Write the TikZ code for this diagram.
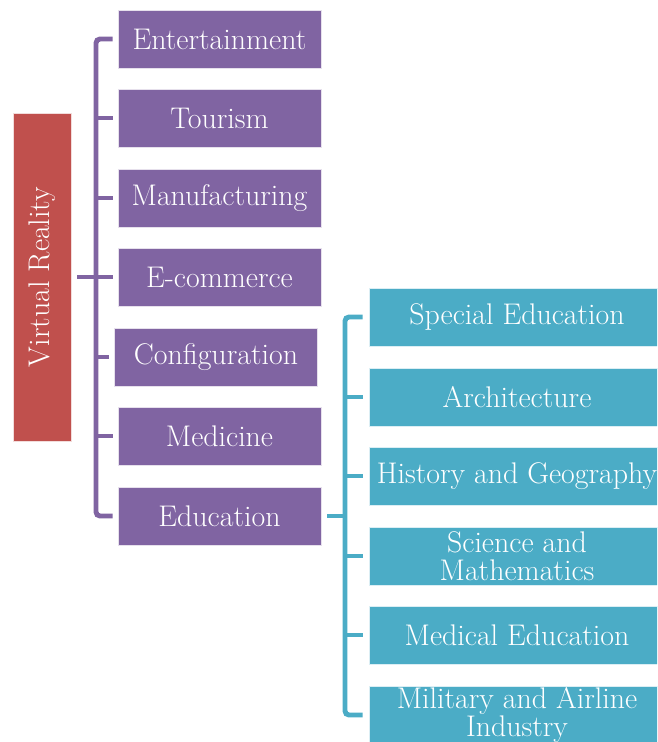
\documentclass[tikz,border=0pt]{standalone}
\usepackage{fontspec}
\definecolor{vrred}{HTML}{C0504D}
\definecolor{apppurple}{HTML}{8064A2}
\definecolor{eduteal}{HTML}{4BACC6}
\tikzset{
  rootbox/.style={fill=vrred, draw=white!80!vrred, line width=0.4pt, text=white,
    minimum width=6.56cm, minimum height=1.16cm, inner sep=0pt,
    font=\fontsize{17}{16}\selectfont},
  appbox/.style={fill=apppurple, draw=white!80!apppurple, line width=0.4pt, text=white,
    minimum width=4.06cm, minimum height=1.16cm, inner sep=0pt,
    font=\fontsize{17}{16}\selectfont},
  edubox/.style={appbox, fill=eduteal, draw=white!80!eduteal,
    minimum width=5.92cm, align=center},
  pline/.style={apppurple, line width=2.8pt, rounded corners=0.08cm},
  tline/.style={eduteal, line width=2.8pt, rounded corners=0.08cm}
}
\begin{document}
\begin{tikzpicture}[x=0.02cm,y=-0.02cm]
  \clip (0,0) rectangle (657,742);

  % root
  \node[rootbox, rotate=90] (vr) at (42,277) {Virtual Reality};

  % application areas
  \node[appbox] (ent) at (219.5,39)  {Entertainment};
  \node[appbox] (tou) at (219.5,118) {Tourism};
  \node[appbox] (man) at (219.5,198) {Manufacturing};
  \node[appbox] (eco) at (219.5,277) {E-commerce};
  \node[appbox] (con) at (216,357)   {Configuration};
  \node[appbox] (med) at (219.5,436) {Medicine};
  \node[appbox] (edu) at (219.5,516) {Education};

  % education fields
  \node[edubox] (spe) at (517,317) {Special Education};
  \node[edubox] (arc) at (517,397) {Architecture};
  \node[edubox] (his) at (517,476) {History and Geography};
  \node[edubox] (sci) at (517,556) {Science and\\Mathematics};
  \node[edubox] (mde) at (517,635) {Medical Education};
  \node[edubox] (mil) at (517,715) {Military and Airline\\Industry};

  % purple bracket
  \coordinate (pspine) at (96,277);
  \draw[pline, shorten <=0.12cm] (vr.south) -- (pspine);
  \draw[pline, shorten <=0.1cm, shorten >=0.1cm] (ent.west) -| (pspine) |- (edu.west);
  \foreach \n in {tou,man,eco,con,med}
    \draw[pline, shorten <=0.1cm] (\n.west) -- (\n.west -| pspine);

  % teal bracket
  \coordinate (tspine) at (345,516);
  \draw[tline, shorten <=0.12cm] (edu.east) -- (tspine);
  \draw[tline, shorten <=0.12cm, shorten >=0.12cm] (spe.west) -| (tspine) |- (mil.west);
  \foreach \n in {arc,his,sci,mde}
    \draw[tline, shorten <=0.12cm] (\n.west) -- (\n.west -| tspine);
\end{tikzpicture}
\end{document}
